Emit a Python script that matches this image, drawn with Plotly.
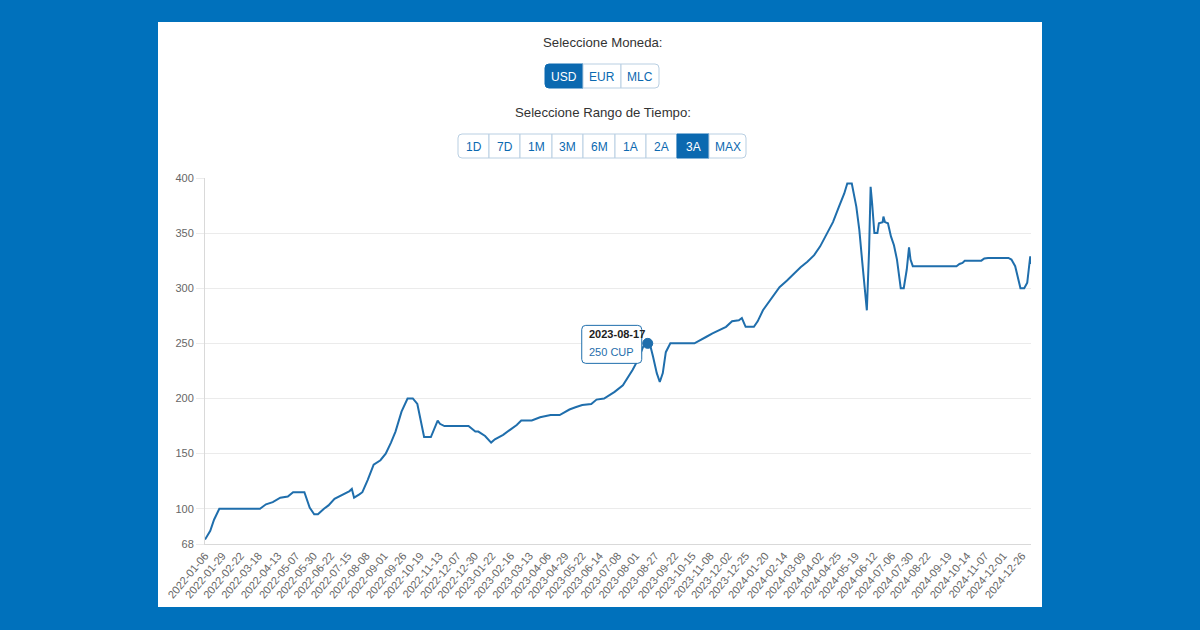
import plotly.graph_objects as go

# tasa informal del USD en CUP
dates = [
    '2022-01-06', '2022-01-08', '2022-01-13', '2022-01-18', '2022-01-25', '2022-03-20',
    '2022-03-24', '2022-03-28', '2022-04-06', '2022-04-16', '2022-04-26', '2022-05-03',
    '2022-05-18', '2022-05-25', '2022-05-31', '2022-06-05', '2022-06-13', '2022-06-19',
    '2022-06-27', '2022-07-08', '2022-07-17', '2022-07-20', '2022-07-23', '2022-07-30',
    '2022-08-03', '2022-08-10', '2022-08-18', '2022-08-27', '2022-09-03', '2022-09-10',
    '2022-09-16', '2022-09-24', '2022-10-02', '2022-10-09', '2022-10-15', '2022-10-24',
    '2022-11-02', '2022-11-11', '2022-11-14', '2022-11-20', '2022-12-22', '2022-12-31',
    '2023-01-04', '2023-01-13', '2023-01-21', '2023-01-26', '2023-02-06', '2023-02-16',
    '2023-02-24', '2023-03-02', '2023-03-16', '2023-03-27', '2023-04-10', '2023-04-22',
    '2023-05-05', '2023-05-13', '2023-05-22', '2023-06-03', '2023-06-10', '2023-06-20',
    '2023-06-28', '2023-07-04', '2023-07-15', '2023-07-21', '2023-07-28', '2023-08-04',
    '2023-08-11', '2023-08-17', '2023-08-20', '2023-08-24', '2023-08-29', '2023-09-02',
    '2023-09-06', '2023-09-10', '2023-09-16', '2023-10-18', '2023-10-27', '2023-11-03',
    '2023-11-11', '2023-11-20', '2023-11-29', '2023-12-07', '2023-12-16', '2023-12-20',
    '2023-12-25', '2024-01-05', '2024-01-10', '2024-01-17', '2024-01-26', '2024-02-04',
    '2024-02-08', '2024-02-18', '2024-02-27', '2024-03-07', '2024-03-16', '2024-03-25',
    '2024-04-02', '2024-04-10', '2024-04-19', '2024-04-27', '2024-05-04', '2024-05-08',
    '2024-05-14', '2024-05-20', '2024-05-24', '2024-05-28', '2024-05-31', '2024-06-03',
    '2024-06-06', '2024-06-08', '2024-06-10', '2024-06-13', '2024-06-17', '2024-06-19',
    '2024-06-24', '2024-06-25', '2024-06-27', '2024-07-01', '2024-07-05', '2024-07-09',
    '2024-07-13', '2024-07-18', '2024-07-22', '2024-07-26', '2024-07-29', '2024-07-31',
    '2024-08-03', '2024-09-30', '2024-10-04', '2024-10-08', '2024-10-11', '2024-11-02',
    '2024-11-06', '2024-11-11', '2024-12-08', '2024-12-12', '2024-12-17', '2024-12-20',
    '2024-12-24', '2024-12-29', '2025-01-02', '2025-01-04', '2025-01-06', '2025-01-07',
]
values = [
    72, 74, 80, 90, 100, 100,
    102, 104, 106, 110, 111, 115,
    115, 101, 95, 95, 100, 103,
    109, 113, 116, 118, 110, 113,
    115, 126, 140, 144, 150, 160,
    170, 188, 200, 200, 195, 165,
    165, 180, 177, 175, 175, 170,
    170, 166, 160, 163, 167, 172,
    176, 180, 180, 183, 185, 185,
    190, 192, 194, 195, 199, 200,
    203, 206, 212, 218, 226, 235,
    247, 250, 249, 238, 223, 215,
    223, 242, 250, 250, 253, 256,
    259, 262, 265, 270, 271, 273,
    265, 265, 270, 280, 289, 298,
    301, 307, 313, 319, 324, 330,
    338, 348, 360, 374, 386, 395,
    395, 374, 353, 323, 299, 280,
    335, 392, 377, 350, 350, 359,
    360, 365, 360, 359, 347, 339,
    326, 300, 300, 317, 337, 326,
    320, 320, 322, 323, 325, 325,
    327, 327.5, 327.5, 326, 320, 310,
    300, 300, 305, 317, 329, 322,
]

tick_dates = [
    '2022-01-06', '2022-01-29', '2022-02-22', '2022-03-18', '2022-04-13', '2022-05-07',
    '2022-05-30', '2022-06-22', '2022-07-15', '2022-08-08', '2022-09-01', '2022-09-26',
    '2022-10-19', '2022-11-13', '2022-12-07', '2022-12-30', '2023-01-22', '2023-02-16',
    '2023-03-13', '2023-04-06', '2023-04-29', '2023-05-22', '2023-06-14', '2023-07-08',
    '2023-08-01', '2023-08-27', '2023-09-22', '2023-10-15', '2023-11-08', '2023-12-02',
    '2023-12-25', '2024-01-20', '2024-02-14', '2024-03-09', '2024-04-02', '2024-04-25',
    '2024-05-19', '2024-06-12', '2024-07-06', '2024-07-30', '2024-08-22', '2024-09-19',
    '2024-10-14', '2024-11-07', '2024-12-01', '2024-12-26',
]
y_ticks = [68, 100, 150, 200, 250, 300, 350, 400]

monedas = ['USD', 'EUR', 'MLC']
rangos = ['1D', '7D', '1M', '3M', '6M', '1A', '2A', '3A', 'MAX']
moneda_activa = 'USD'
rango_activo = '3A'
punto_date = '2023-08-17'
punto_value = 250

BLUE_BG = '#0071bc'
LINE = '#1f6eac'
BTN_BLUE = '#0b69b0'
BTN_BORDER = '#b9cfe2'
FONT = 'Liberation Sans, Arial, sans-serif'

# plot area in page pixels
PL, PR, PT, PB = 205, 1031, 178, 544


def rounded(x0, x1, y0, y1, rl=0, rr=0):
    # path for a box with rounded left / right corners, coords relative to anchor, y up
    return ('M %g,%g L %g,%g Q %g,%g %g,%g L %g,%g Q %g,%g %g,%g '
            'L %g,%g Q %g,%g %g,%g L %g,%g Q %g,%g %g,%g Z') % (
        x0 + rl, y0, x1 - rr, y0, x1, y0, x1, y0 + rr,
        x1, y1 - rr, x1, y1, x1 - rr, y1,
        x0 + rl, y1, x0, y1, x0, y1 - rl,
        x0, y0 + rl, x0, y0, x0 + rl, y0)


def px_shape(x0, x1, y0, y1, rl=0, rr=0, **kw):
    # box given in page pixels (y down)
    return dict(type='path', xref='paper', yref='paper',
                xsizemode='pixel', ysizemode='pixel', xanchor=0, yanchor=0,
                path=rounded(x0 - PL, x1 - PL, PB - y1, PB - y0, rl, rr), **kw)


def px_text(x, y, text, size=13, color='#333', **kw):
    return dict(xref='paper', yref='paper', x=0, y=0,
                xshift=x - PL, yshift=PB - y, text=text, showarrow=False,
                xanchor='center', yanchor='middle',
                font=dict(family=FONT, size=size, color=color), **kw)


shapes = [px_shape(158, 1042, 22, 607, fillcolor='white', line_width=0, layer='below')]
annotations = [
    px_text(603, 42, 'Seleccione Moneda:', size=13.2),
    px_text(603, 112, 'Seleccione Rango de Tiempo:', size=13.2),
]


def button_group(labels, edges, top, bottom, active):
    n = len(labels)
    for i, (lab, x0, x1) in enumerate(zip(labels, edges[:-1], edges[1:])):
        on = lab == active
        shapes.append(px_shape(x0, x1, top, bottom,
                               rl=4 if i == 0 else 0, rr=4 if i == n - 1 else 0,
                               fillcolor=BTN_BLUE if on else 'white',
                               line=dict(color=BTN_BLUE if on else BTN_BORDER, width=1)))
        annotations.append(px_text((x0 + x1) / 2, (top + bottom) / 2 + 0.5, lab, size=12,
                                   color='white' if on else BTN_BLUE))


button_group(monedas, [545, 583, 621, 659], 64, 88, moneda_activa)
button_group(rangos, [458, 489, 520, 552, 583, 615, 646, 677, 709, 746], 134, 158, rango_activo)

fig = go.Figure()
fig.add_trace(go.Scatter(x=dates, y=values, mode='lines',
                         line=dict(color=LINE, width=2), hoverinfo='skip'))

# tooltip box anchored at the highlighted point, with the point drawn on top
shapes.append(dict(type='path', xref='x', yref='y',
                   xsizemode='pixel', ysizemode='pixel',
                   xanchor=punto_date, yanchor=punto_value,
                   path=rounded(-66, -6, -20, 18, 4, 4),
                   fillcolor='white', line=dict(color=LINE, width=1)))
shapes.append(dict(type='circle', xref='x', yref='y',
                   xsizemode='pixel', ysizemode='pixel',
                   xanchor=punto_date, yanchor=punto_value,
                   x0=-5, x1=5, y0=-5, y1=5,
                   fillcolor=LINE, line=dict(color=LINE, width=1)))
annotations.append(dict(x=punto_date, y=punto_value, xref='x', yref='y',
                        text='<b>%s</b>' % punto_date, showarrow=False,
                        xanchor='left', yanchor='middle', xshift=-61, yshift=9,
                        font=dict(family=FONT, size=11, color='#222')))
annotations.append(dict(x=punto_date, y=punto_value, xref='x', yref='y',
                        text='%d CUP' % punto_value, showarrow=False,
                        xanchor='left', yanchor='middle', xshift=-61, yshift=-9,
                        font=dict(family=FONT, size=11, color=LINE)))

fig.update_layout(
    width=1200, height=630,
    margin=dict(l=PL, r=1200 - PR, t=PT, b=630 - PB),
    paper_bgcolor=BLUE_BG, plot_bgcolor='white',
    showlegend=False,
    shapes=shapes, annotations=annotations,
    font=dict(family=FONT, color='#666', size=11),
)
fig.update_xaxes(
    type='date', range=['2022-01-06', '2025-01-07'],
    tickvals=tick_dates, ticktext=tick_dates, tickangle=-50,
    showgrid=False, showline=True, linecolor='#d9d9d9', linewidth=1,
    ticks='', tickfont=dict(size=11, color='#666'),
)
fig.update_yaxes(
    range=[68, 400], tickvals=y_ticks,
    showgrid=True, gridcolor='#ebebeb', gridwidth=1,
    showline=True, linecolor='#d9d9d9', linewidth=1,
    ticks='outside', ticklen=8, tickcolor='#ebebeb',
    zeroline=False, tickfont=dict(size=11, color='#666'),
)

fig.write_html('out.html', config={'displayModeBar': False}, post_script=(
    "document.body.style.margin='0';"
    "document.body.style.background='%s';"
    "document.body.style.overflow='hidden';" % BLUE_BG))
